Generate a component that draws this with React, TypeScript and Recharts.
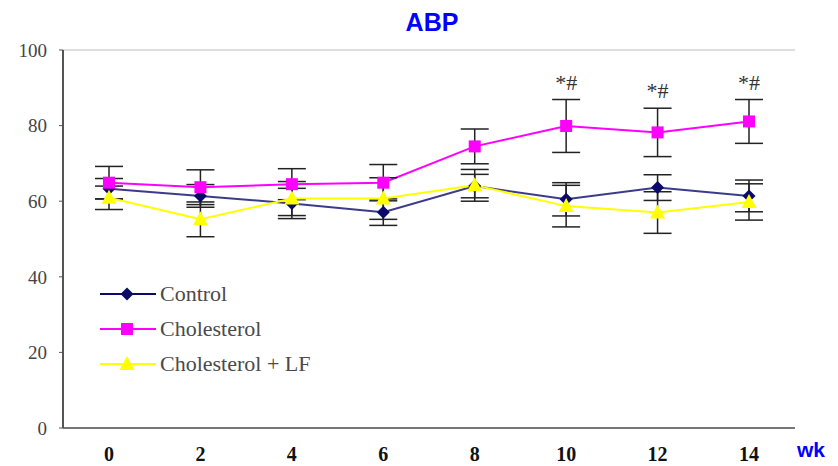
import React from "react";
import {
	ErrorBar,
	LabelList,
	Line,
	LineChart,
	ReferenceLine,
	XAxis,
	YAxis,
} from "recharts";

document.body.style.margin = "0";

const weeks = ["0", "2", "4", "6", "8", "10", "12", "14"];
const control = [63.3, 61.4, 59.4, 57.1, 64.0, 60.5, 63.6, 61.4];
const controlErr = [2.7, 3.0, 4.0, 3.5, 3.1, 4.4, 3.4, 4.2];
const cholesterol = [64.9, 63.7, 64.5, 64.9, 74.5, 79.9, 78.2, 81.1];
const cholesterolErr = [4.3, 4.6, 4.1, 4.8, 4.6, 7.0, 6.4, 5.8];
const cholLF = [60.9, 55.2, 60.7, 60.7, 64.2, 58.7, 57.0, 59.8];
const cholLFErr = [3.1, 4.6, 4.5, 5.5, 4.2, 5.5, 5.5, 4.8];
const signif = ["", "", "", "", "", "*#", "*#", "*#"];
const yTicks = [0, 20, 40, 60, 80, 100];

const data = weeks.map((wk, i) => ({
	wk,
	control: control[i],
	controlErr: controlErr[i],
	cholesterol: cholesterol[i],
	cholesterolErr: cholesterolErr[i],
	cholLF: cholLF[i],
	cholLFErr: cholLFErr[i],
	sig: signif[i],
	sigY: signif[i] ? cholesterol[i] + cholesterolErr[i] : null,
}));

const NAVY = "#0a0a6b";
const MAGENTA = "#ff00ff";
const YELLOW = "#ffff00";
const SERIF = "'Liberation Serif', 'Times New Roman', serif";

function Diamond({ cx, cy }: any) {
	if (cx == null || cy == null) return null;
	const r = 6.5;
	return (
		<polygon
			points={`${cx},${cy - r} ${cx + r},${cy} ${cx},${cy + r} ${cx - r},${cy}`}
			fill={NAVY}
		/>
	);
}

function Square({ cx, cy }: any) {
	if (cx == null || cy == null) return null;
	return <rect x={cx - 6} y={cy - 6} width={12} height={12} fill={MAGENTA} />;
}

function Triangle({ cx, cy }: any) {
	if (cx == null || cy == null) return null;
	return (
		<polygon
			points={`${cx},${cy - 8} ${cx + 7.5},${cy + 6} ${cx - 7.5},${cy + 6}`}
			fill={YELLOW}
		/>
	);
}

const legendItems = [
	{ name: "Control", color: NAVY, Mark: Diamond },
	{ name: "Cholesterol", color: MAGENTA, Mark: Square },
	{ name: "Cholesterol + LF", color: YELLOW, Mark: Triangle },
];

function ChartLegend() {
	return (
		<div style={{ position: "absolute", left: 100, top: 276 }}>
			{legendItems.map(({ name, color, Mark }) => (
				<div
					key={name}
					style={{ display: "flex", alignItems: "center", height: 35 }}
				>
					<svg width={56} height={20}>
						<line x1={0} y1={10} x2={56} y2={10} stroke={color} strokeWidth={2} />
						<Mark cx={27} cy={10} />
					</svg>
					<span
						style={{
							fontFamily: SERIF,
							fontSize: 22,
							color: "#4a4a4a",
							marginLeft: 4,
						}}
					>
						{name}
					</span>
				</div>
			))}
		</div>
	);
}

export default function App() {
	return (
		<div style={{ position: "relative", width: 838, height: 466, background: "#fff" }}>
			<LineChart
				width={838}
				height={466}
				data={data}
				margin={{ top: 50, right: 43, left: 0, bottom: 0 }}
			>
				<XAxis
					dataKey="wk"
					height={38}
					padding={{ left: 46, right: 46 }}
					axisLine={{ stroke: "#777", strokeWidth: 2 }}
					tickLine={false}
					tickSize={6}
					tickMargin={13}
					tick={{ fontFamily: SERIF, fontSize: 20, fontWeight: "bold", fill: "#111" }}
				/>
				<YAxis
					yAxisId="l"
					domain={[0, 100]}
					ticks={yTicks}
					width={63}
					axisLine={{ stroke: "#555", strokeWidth: 2 }}
					tickLine={{ stroke: "#555" }}
					tickSize={4}
					tickMargin={12}
					tick={{ fontFamily: SERIF, fontSize: 19, fill: "#444" }}
				/>
				<YAxis
					yAxisId="r"
					orientation="right"
					domain={[0, 100]}
					width={0}
					tick={false}
					tickLine={false}
					axisLine={{ stroke: "#888", strokeWidth: 2 }}
				/>
				<ReferenceLine yAxisId="l" y={100} stroke="#d4d4d4" strokeWidth={1.5} />
				<Line
					yAxisId="l"
					dataKey="control"
					name="Control"
					stroke={NAVY}
					strokeOpacity={0.8}
					strokeWidth={2}
					dot={<Diamond />}
					activeDot={false}
					isAnimationActive={false}
				>
					<ErrorBar dataKey="controlErr" width={14} stroke="#222" strokeWidth={1.5} direction="y" />
				</Line>
				<Line
					yAxisId="l"
					dataKey="cholesterol"
					name="Cholesterol"
					stroke={MAGENTA}
					strokeWidth={2}
					dot={<Square />}
					activeDot={false}
					isAnimationActive={false}
				>
					<ErrorBar dataKey="cholesterolErr" width={14} stroke="#222" strokeWidth={1.5} direction="y" />
				</Line>
				<Line
					yAxisId="l"
					dataKey="cholLF"
					name="Cholesterol + LF"
					stroke={YELLOW}
					strokeWidth={2}
					dot={<Triangle />}
					activeDot={false}
					isAnimationActive={false}
				>
					<ErrorBar dataKey="cholLFErr" width={14} stroke="#222" strokeWidth={1.5} direction="y" />
				</Line>
				<Line
					yAxisId="l"
					dataKey="sigY"
					stroke="none"
					dot={false}
					activeDot={false}
					legendType="none"
					isAnimationActive={false}
				>
					<LabelList
						dataKey="sig"
						position="top"
						offset={10}
						style={{ fontFamily: SERIF, fontSize: 22, fill: "#333" }}
					/>
				</Line>
			</LineChart>
			<ChartLegend />
			<div
				style={{
					position: "absolute",
					left: 0,
					width: 864,
					top: 8,
					textAlign: "center",
					fontFamily: "Arial, 'Liberation Sans', sans-serif",
					fontWeight: "bold",
					fontSize: 25,
					color: "#0000ff",
				}}
			>
				ABP
			</div>
			<div
				style={{
					position: "absolute",
					left: 797,
					top: 438,
					fontFamily: "Arial, 'Liberation Sans', sans-serif",
					fontWeight: "bold",
					fontSize: 21,
					color: "#0000ff",
				}}
			>
				wk
			</div>
		</div>
	);
}
